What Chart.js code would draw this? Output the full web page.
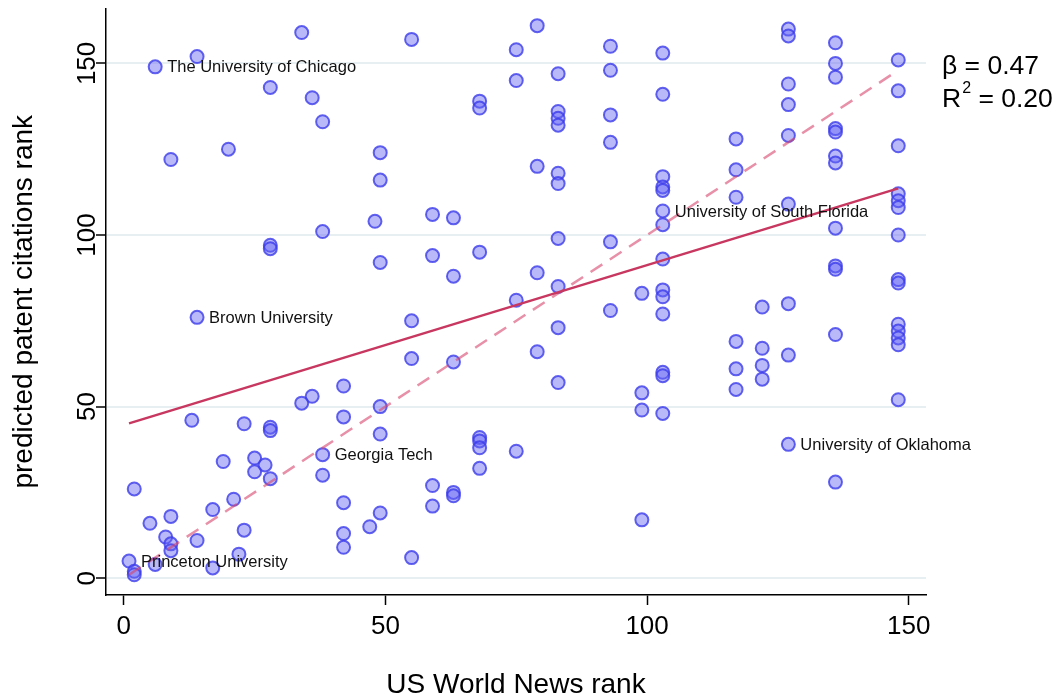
<!DOCTYPE html>
<html>
<head>
<meta charset="utf-8">
<script src="https://cdn.jsdelivr.net/npm/chart.js@4/dist/chart.umd.min.js"></script>
<style>
  html, body { margin: 0; padding: 0; background: #fff; }
</style>
</head>
<body>
<canvas id="rankChart" width="1060" height="700"></canvas>
<script>
// US News rank (x) vs predicted patent citations rank (y), one entry per university
const usNewsRank = [
  6, 14, 34, 28, 36, 38, 9, 20, 49, 49, 48, 38, 28, 28, 49,
  14, 42, 36, 34, 49, 42, 13, 23, 28, 28, 49, 38, 19, 25, 27, 25, 28, 38, 2, 21,
  17, 9, 5, 42, 49, 47, 42, 42, 8, 9, 9, 14, 23, 22, 17, 6, 1, 2, 2,
  55, 79, 75, 75, 68, 68, 83, 83, 83, 83, 93, 93, 93, 93, 103, 103, 103, 103, 103, 103,
  103, 103, 103, 103, 99, 79, 83, 83, 59, 63, 59, 63, 68, 83, 93, 79, 75, 83,
  93, 103, 83, 55, 55, 63, 79, 83, 103, 103, 99, 99, 103, 68, 68, 68, 68, 75, 59, 59,
  63, 63, 99, 55,
  127, 127, 127, 127, 127, 117, 117, 117, 127, 136, 136, 136, 136, 136, 136, 136, 136, 136, 136,
  148, 148, 148, 148, 148, 148, 148, 148, 148,
  117, 117, 117, 122, 122, 122, 122, 127, 127, 127, 136, 136, 148, 148, 148, 148, 148
];
const patentRank = [
  149, 152, 159, 143, 140, 133, 122, 125, 124, 116, 104, 101, 97, 96, 92,
  76, 56, 53, 51, 50, 47, 46, 45, 44, 43, 42, 36, 34, 35, 33, 31, 29, 30, 26, 23,
  20, 18, 16, 22, 19, 15, 13, 9, 12, 10, 8, 11, 14, 7, 3, 4, 5, 2, 1,
  157, 161, 154, 145, 139, 137, 147, 136, 134, 132, 155, 148, 135, 127, 153, 141, 117, 114, 113, 107,
  103, 93, 84, 82, 83, 120, 118, 115, 106, 105, 94, 88, 95, 99, 98, 89, 81, 85,
  78, 77, 73, 75, 64, 63, 66, 57, 60, 59, 54, 49, 48, 41, 40, 38, 32, 37, 27, 21,
  25, 24, 17, 6,
  160, 158, 144, 138, 129, 128, 119, 111, 109, 156, 150, 146, 131, 130, 123, 121, 102, 91, 90,
  151, 142, 126, 112, 110, 108, 100, 87, 86,
  69, 61, 55, 79, 67, 62, 58, 80, 65, 39, 71, 28, 74, 72, 70, 68, 52
];

// named universities
const labelNames = ['The University of Chicago', 'Brown University', 'Georgia Tech',
  'Princeton University', 'University of South Florida', 'University of Oklahoma'];
const labelX = [6, 14, 38, 1, 103, 127];
const labelY = [149, 76, 36, 5, 107, 39];

// fitted line and 45 degree line, end points
const fitX = [1, 148];
const fitY = [45.1, 113.6];
const diagX = [1, 148];
const diagY = [1, 148];
const fitBeta = '0.47';
const fitR2 = '0.20';

const xTicks = [0, 50, 100, 150];
const yTicks = [0, 50, 100, 150];

const FONT = '"Liberation Sans", Arial, Helvetica, sans-serif';

const pairs = (xs, ys) => xs.map((v, i) => ({ x: v, y: ys[i] }));

const textPlugin = {
  id: 'textPlugin',
  afterDatasetsDraw(chart) {
    const { ctx, chartArea, scales: { x, y } } = chart;
    ctx.save();
    ctx.fillStyle = '#111';
    ctx.textBaseline = 'middle';
    ctx.font = '16.5px ' + FONT;
    labelNames.forEach((name, i) => {
      ctx.fillText(name, x.getPixelForValue(labelX[i]) + 12, y.getPixelForValue(labelY[i]) + 1);
    });

    // regression stats on the right
    const left = chartArea.right + 16;
    const y1 = y.getPixelForValue(149.6) + 2;
    const y2 = y1 + 33;
    ctx.fillStyle = '#000';
    ctx.font = '26.5px ' + FONT;
    ctx.fillText('\u03b2 = ' + fitBeta, left, y1);
    ctx.fillText('R', left, y2);
    let w = ctx.measureText('R').width;
    ctx.font = '16px ' + FONT;
    ctx.fillText('2', left + w + 1, y2 - 11);
    w += ctx.measureText('2').width + 1;
    ctx.font = '26.5px ' + FONT;
    ctx.fillText(' = ' + fitR2, left + w, y2);
    ctx.restore();
  }
};

new Chart(document.getElementById('rankChart'), {
  type: 'scatter',
  data: {
    datasets: [
      {
        type: 'line',
        data: pairs(fitX, fitY),
        borderColor: '#c8375f',
        borderWidth: 2.5,
        pointRadius: 0,
        order: 0
      },
      {
        type: 'line',
        data: pairs(diagX, diagY),
        borderColor: 'rgba(215, 70, 110, 0.6)',
        borderWidth: 2.5,
        borderDash: [14, 9],
        pointRadius: 0,
        order: 1
      },
      {
        data: pairs(usNewsRank, patentRank),
        pointRadius: 6.5,
        borderWidth: 2,
        backgroundColor: 'rgba(100, 100, 245, 0.45)',
        borderColor: 'rgba(60, 60, 235, 0.8)',
        order: 2
      }
    ]
  },
  options: {
    responsive: false,
    animation: false,
    layout: { padding: { left: 0, right: 134, top: 8, bottom: 0 } },
    plugins: {
      legend: { display: false },
      tooltip: { enabled: false }
    },
    scales: {
      x: {
        type: 'linear',
        min: -3.4,
        max: 153.3,
        afterBuildTicks: s => { s.ticks = xTicks.map(v => ({ value: v })); },
        afterFit: s => { s.height = 105; },
        grid: { drawOnChartArea: false, drawTicks: true, tickLength: 10, tickColor: '#000', tickWidth: 1.5 },
        border: { color: '#000', width: 1.5 },
        ticks: { font: { size: 26, family: FONT }, color: '#000', padding: 6, maxRotation: 0 },
        title: {
          display: true,
          text: 'US World News rank',
          color: '#000',
          font: { size: 28, family: FONT, lineHeight: 1.2 },
          padding: { top: 0, bottom: -2 }
        }
      },
      y: {
        type: 'linear',
        min: -4.9,
        max: 166,
        afterBuildTicks: s => { s.ticks = yTicks.map(v => ({ value: v })); },
        afterFit: s => { s.width = 106; },
        grid: { color: '#e8eff2', lineWidth: 2, drawTicks: true, tickLength: 10, tickColor: '#000', tickWidth: 1.5 },
        border: { color: '#000', width: 1.5 },
        ticks: {
          font: { size: 26, family: FONT },
          color: '#000',
          minRotation: 90,
          maxRotation: 90,
          crossAlign: 'center',
          padding: -14
        },
        title: {
          display: true,
          text: 'predicted patent citations rank',
          color: '#000',
          font: { size: 28, family: FONT, lineHeight: 1.2 },
          padding: { top: 7, bottom: 0 }
        }
      }
    }
  },
  plugins: [textPlugin]
});
</script>
</body>
</html>
